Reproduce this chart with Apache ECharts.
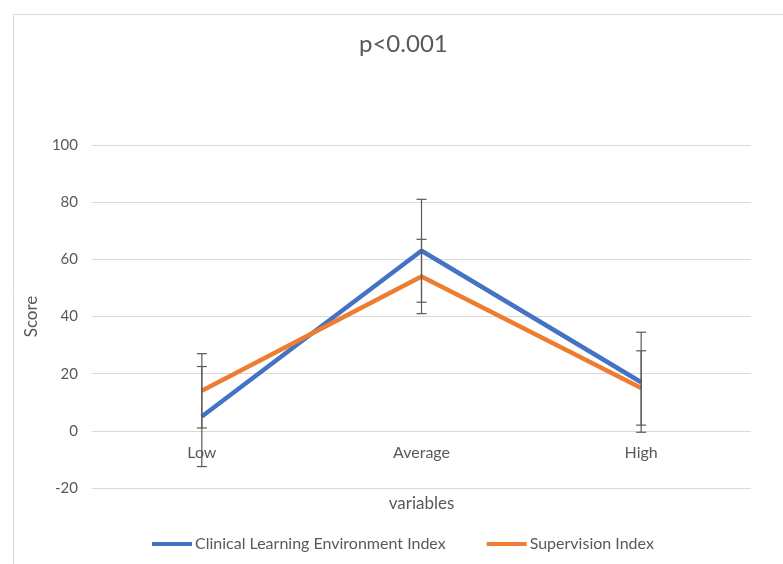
<!DOCTYPE html>
<html>
<head>
<meta charset="utf-8">
<script src="https://cdn.jsdelivr.net/npm/echarts@6/dist/echarts.min.js"></script>
<style>
html,body{margin:0;padding:0;background:#fff;}
#chart{width:783px;height:564px;}
</style>
</head>
<body>
<div id="chart"></div>
<script>
const categories = ['Low', 'Average', 'High'];
const cleiValues = [5, 63, 17];
const cleiErrors = [17.5, 18, 17.5];
const supValues = [14, 54, 15];
const supErrors = [13, 13, 13];
const seriesNames = ['Clinical Learning Environment Index', 'Supervision Index'];
const yTicks = { min: -20, max: 100, interval: 20 };

const FONT = 'Lato, "Open Sans", sans-serif';
const TXT = '#595959';

function errData(vals, errs) {
  return vals.map((v, i) => [i, v - errs[i], v + errs[i]]);
}

function renderErr(params, api) {
  const x = api.value(0);
  const lo = api.coord([x, api.value(1)]);
  const hi = api.coord([x, api.value(2)]);
  const hw = 5;
  const style = { stroke: '#595959', lineWidth: 1.2, fill: null };
  return {
    type: 'group',
    children: [
      { type: 'line', shape: { x1: lo[0], y1: lo[1], x2: hi[0], y2: hi[1] }, style },
      { type: 'line', shape: { x1: lo[0] - hw, y1: lo[1], x2: lo[0] + hw, y2: lo[1] }, style },
      { type: 'line', shape: { x1: hi[0] - hw, y1: hi[1], x2: hi[0] + hw, y2: hi[1] }, style }
    ]
  };
}

const chart = echarts.init(document.getElementById('chart'), null, { renderer: 'canvas' });
chart.setOption({
  animation: false,
  backgroundColor: '#fff',
  textStyle: { fontFamily: FONT, color: TXT },
  graphic: [{
    type: 'rect', left: 11, top: 12, silent: true,
    shape: { width: 790, height: 570 },
    style: { fill: null, stroke: '#d9d9d9', lineWidth: 1 }
  }],
  title: {
    text: 'p<0.001', left: 354, top: 27,
    textStyle: { fontFamily: FONT, fontSize: 24, fontWeight: 'normal', color: TXT }
  },
  grid: { left: 92, right: 32, top: 145, bottom: 76, containLabel: false, outerBoundsMode: 'none' },
  legend: {
    top: 531, left: 147, itemWidth: 40, itemHeight: 4, itemGap: 41,
    itemStyle: { borderWidth: 0 },
    icon: 'rect',
    textStyle: { fontFamily: FONT, fontSize: 16, color: TXT, padding: [0, 0, 0, -2] },
    data: seriesNames
  },
  xAxis: {
    type: 'category', data: categories, boundaryGap: true,
    name: 'variables', nameLocation: 'middle', nameGap: 7, nameMoveOverlap: false,
    nameTextStyle: { fontFamily: FONT, fontSize: 17, color: TXT },
    axisLine: { show: false, onZero: true },
    axisTick: { show: false },
    axisLabel: { fontFamily: FONT, fontSize: 16, color: TXT, margin: -43 }
  },
  yAxis: {
    type: 'value', min: yTicks.min, max: yTicks.max, interval: yTicks.interval,
    name: 'Score', nameLocation: 'middle', nameGap: 52, nameRotate: 90,
    nameTextStyle: { fontFamily: FONT, fontSize: 17, color: TXT },
    axisLine: { show: false }, axisTick: { show: false },
    axisLabel: { fontFamily: FONT, fontSize: 15, color: TXT, margin: 14 },
    splitLine: { lineStyle: { color: '#d9d9d9', width: 1 } }
  },
  series: [
    {
      name: seriesNames[0], type: 'line', data: cleiValues,
      symbol: 'none', lineStyle: { color: '#4472C4', width: 4.5 },
      itemStyle: { color: '#4472C4' }, z: 2
    },
    {
      name: seriesNames[1], type: 'line', data: supValues,
      symbol: 'none', lineStyle: { color: '#ED7D31', width: 4.5 },
      itemStyle: { color: '#ED7D31' }, z: 3
    },
    {
      type: 'custom', name: 'err1', data: errData(cleiValues, cleiErrors),
      renderItem: renderErr, z: 5, silent: true
    },
    {
      type: 'custom', name: 'err2', data: errData(supValues, supErrors),
      renderItem: renderErr, z: 5, silent: true
    }
  ]
});
</script>
</body>
</html>
